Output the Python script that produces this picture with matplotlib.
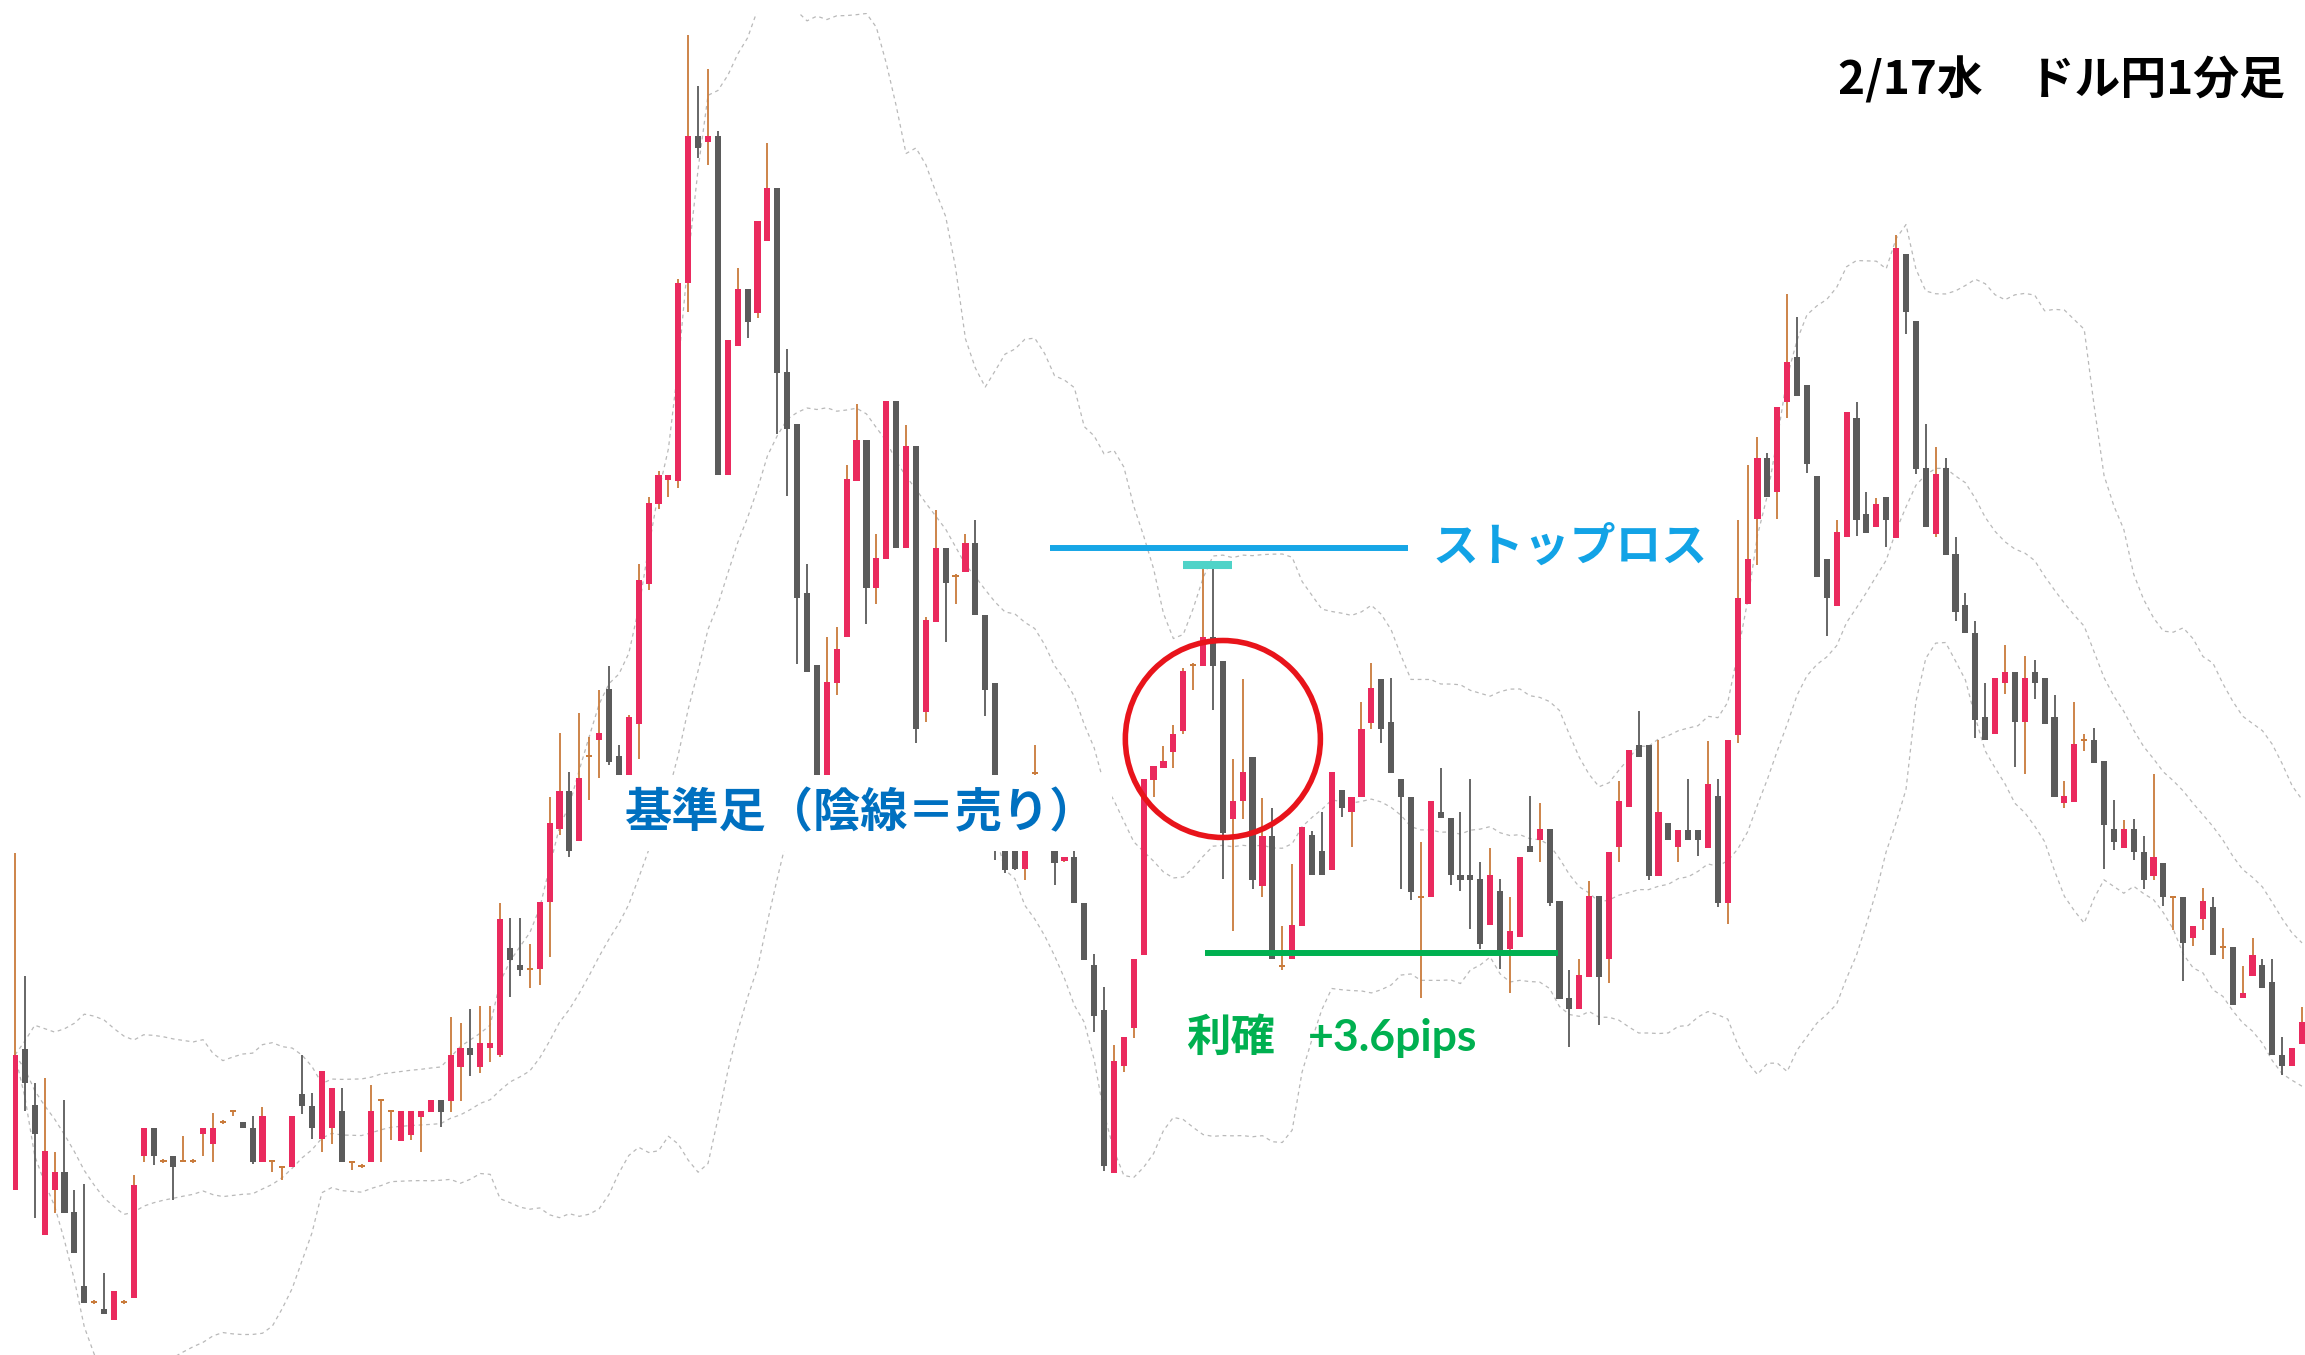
import numpy as np
import pandas as pd
import matplotlib
matplotlib.use("Agg")
import matplotlib.pyplot as plt
from matplotlib.patches import Ellipse

plt.rcParams['font.family'] = ['Noto Sans CJK JP', 'DejaVu Sans']

# USD/JPY 1-minute candles, 2/17
opens = [
  105.9430, 105.9853, 105.9685, 105.9295, 105.9430, 105.9484, 105.9364, 105.9142, 105.9094, 105.9073,
  105.9040, 105.9094, 105.9106, 105.9532, 105.9616, 105.9517, 105.9532, 105.9517, 105.9517, 105.9598,
  105.9568, 105.9634, 105.9667, 105.9634, 105.9616, 105.9514, 105.9517, 105.9499, 105.9499, 105.9718,
  105.9682, 105.9583, 105.9616, 105.9667, 105.9514, 105.9502, 105.9514, 105.9700, 105.9667, 105.9577,
  105.9595, 105.9649, 105.9664, 105.9700, 105.9697, 105.9799, 105.9856, 105.9799, 105.9856, 105.9835,
  106.0156, 106.0105, 106.0093, 106.0093, 106.0294, 106.0513, 106.0627, 106.0477, 106.0732, 106.0780,
  106.0933, 106.0732, 106.0630, 106.0828, 106.1248, 106.1488, 106.1560, 106.1557, 106.2151, 106.2592,
  106.2574, 106.2592, 106.1575, 106.1962, 106.2133, 106.2061, 106.2277, 106.2436, 106.1884, 106.1728,
  106.1221, 106.1005, 106.0510, 106.0951, 106.1089, 106.1557, 106.1680, 106.1236, 106.1323, 106.1797,
  106.1356, 106.1662, 106.0864, 106.1134, 106.1356, 106.1272, 106.1284, 106.1371, 106.1155, 106.0951,
  106.0450, 106.0450, 106.0393, 106.0681, 106.0615, 106.0450, 106.0417, 106.0429, 106.0291, 106.0105,
  105.9970, 105.9481, 105.9802, 105.9916, 106.0135, 106.0660, 106.0696, 106.0744, 106.0807, 106.1005,
  106.1002, 106.1089, 106.1017, 106.0543, 106.0597, 106.0729, 106.0342, 106.0492, 106.0102, 106.0123,
  106.0222, 106.0495, 106.0447, 106.0390, 106.0630, 106.0564, 106.0609, 106.0831, 106.0963, 106.0834,
  106.0663, 106.0609, 106.0309, 106.0309, 106.0564, 106.0546, 106.0375, 106.0375, 106.0363, 106.0225,
  106.0327, 106.0153, 106.0189, 106.0462, 106.0480, 106.0513, 106.0297, 106.0006, 105.9973, 106.0069,
  106.0312, 106.0123, 106.0459, 106.0579, 106.0765, 106.0765, 106.0372, 106.0531, 106.0459, 106.0510,
  106.0510, 106.0456, 106.0612, 106.0291, 106.0795, 106.1188, 106.1443, 106.1626, 106.1524, 106.1794,
  106.1929, 106.1845, 106.1572, 106.1323, 106.1182, 106.1389, 106.1746, 106.1458, 106.1419, 106.1509,
  106.1386, 106.2238, 106.2037, 106.1596, 106.1398, 106.1596, 106.1338, 106.1185, 106.1101, 106.0849,
  106.0798, 106.0951, 106.0984, 106.0834, 106.0984, 106.0966, 106.0849, 106.0591, 106.0594, 106.0780,
  106.0780, 106.0717, 106.0513, 106.0456, 106.0513, 106.0444, 106.0372, 106.0411, 106.0309, 106.0309,
  106.0186, 106.0243, 106.0279, 106.0159, 106.0159, 106.0006, 106.0072, 106.0105, 106.0054, 105.9835,
  105.9802, 105.9868]

highs = [
  106.0441, 106.0072, 105.9751, 105.9766, 105.9544, 105.9700, 105.9430, 105.9448, 105.9100, 105.9181,
  105.9127, 105.9100, 105.9475, 105.9616, 105.9616, 105.9523, 105.9532, 105.9592, 105.9523, 105.9616,
  105.9661, 105.9640, 105.9667, 105.9634, 105.9652, 105.9679, 105.9517, 105.9499, 105.9652, 105.9835,
  105.9721, 105.9787, 105.9736, 105.9736, 105.9514, 105.9508, 105.9745, 105.9700, 105.9667, 105.9667,
  105.9667, 105.9667, 105.9700, 105.9700, 105.9949, 105.9931, 105.9973, 105.9982, 105.9982, 106.0291,
  106.0246, 106.0246, 106.0168, 106.0294, 106.0609, 106.0801, 106.0684, 106.0861, 106.0789, 106.0930,
  106.1002, 106.0765, 106.0855, 106.1308, 106.1509, 106.1587, 106.1575, 106.2163, 106.2895, 106.2742,
  106.2793, 106.2607, 106.1980, 106.2196, 106.2133, 106.2337, 106.2571, 106.2436, 106.1953, 106.1728,
  106.1308, 106.1005, 106.1089, 106.1119, 106.1605, 106.1788, 106.1680, 106.1398, 106.1797, 106.1797,
  106.1725, 106.1662, 106.1149, 106.1470, 106.1356, 106.1278, 106.1398, 106.1440, 106.1155, 106.0951,
  106.0480, 106.0480, 106.0480, 106.0765, 106.0630, 106.0465, 106.0429, 106.0450, 106.0291, 106.0138,
  106.0039, 105.9865, 105.9889, 106.0123, 106.0663, 106.0702, 106.0762, 106.0825, 106.0996, 106.1011,
  106.1302, 106.1305, 106.1017, 106.0723, 106.0963, 106.0729, 106.0606, 106.0576, 106.0222, 106.0408,
  106.0519, 106.0507, 106.0564, 106.0684, 106.0630, 106.0609, 106.0894, 106.1011, 106.0963, 106.0966,
  106.0663, 106.0609, 106.0474, 106.0597, 106.0696, 106.0546, 106.0564, 106.0663, 106.0414, 106.0456,
  106.0363, 106.0309, 106.0429, 106.0612, 106.0591, 106.0513, 106.0297, 106.0090, 106.0123, 106.0357,
  106.0312, 106.0444, 106.0657, 106.0750, 106.0867, 106.0765, 106.0780, 106.0531, 106.0510, 106.0663,
  106.0510, 106.0777, 106.0663, 106.0780, 106.1440, 106.1605, 106.1689, 106.1641, 106.1779, 106.2118,
  106.2049, 106.1845, 106.1572, 106.1323, 106.1440, 106.1764, 106.1794, 106.1524, 106.1506, 106.1509,
  106.2295, 106.2238, 106.2037, 106.1728, 106.1659, 106.1626, 106.1389, 106.1221, 106.1137, 106.0951,
  106.0966, 106.1065, 106.0984, 106.1032, 106.1020, 106.0966, 106.0915, 106.0657, 106.0894, 106.0798,
  106.0816, 106.0717, 106.0600, 106.0540, 106.0543, 106.0492, 106.0678, 106.0411, 106.0309, 106.0309,
  106.0222, 106.0336, 106.0309, 106.0216, 106.0159, 106.0102, 106.0186, 106.0123, 106.0123, 105.9889,
  105.9856, 105.9979]

lows = [
  105.9430, 105.9667, 105.9346, 105.9295, 105.9361, 105.9361, 105.9241, 105.9091, 105.9088, 105.9058,
  105.9040, 105.9088, 105.9106, 105.9514, 105.9505, 105.9511, 105.9400, 105.9514, 105.9511, 105.9532,
  105.9514, 105.9628, 105.9652, 105.9616, 105.9508, 105.9514, 105.9484, 105.9460, 105.9499, 105.9658,
  105.9583, 105.9544, 105.9568, 105.9514, 105.9490, 105.9496, 105.9514, 105.9514, 105.9580, 105.9577,
  105.9580, 105.9544, 105.9664, 105.9619, 105.9664, 105.9697, 105.9772, 105.9781, 105.9814, 105.9829,
  106.0009, 106.0072, 106.0036, 106.0045, 106.0129, 106.0495, 106.0429, 106.0477, 106.0600, 106.0666,
  106.0705, 106.0570, 106.0600, 106.0723, 106.1230, 106.1473, 106.1509, 106.1536, 106.2064, 106.2526,
  106.2505, 106.1575, 106.1575, 106.1962, 106.1986, 106.2046, 106.2277, 106.1698, 106.1512, 106.1008,
  106.0984, 106.0480, 106.0495, 106.0915, 106.1089, 106.1557, 106.1128, 106.1188, 106.1323, 106.1356,
  106.1356, 106.0771, 106.0834, 106.1134, 106.1074, 106.1188, 106.1284, 106.1155, 106.0852, 106.0420,
  106.0381, 106.0390, 106.0360, 106.0675, 106.0585, 106.0345, 106.0414, 106.0291, 106.0120, 105.9904,
  105.9487, 105.9481, 105.9784, 105.9886, 106.0135, 106.0609, 106.0696, 106.0696, 106.0798, 106.0930,
  106.1002, 106.0870, 106.0363, 106.0207, 106.0543, 106.0333, 106.0309, 106.0123, 106.0090, 106.0123,
  106.0222, 106.0375, 106.0375, 106.0390, 106.0549, 106.0459, 106.0609, 106.0813, 106.0771, 106.0681,
  106.0333, 106.0300, 106.0006, 106.0309, 106.0546, 106.0345, 106.0327, 106.0213, 106.0153, 106.0225,
  106.0093, 106.0021, 106.0189, 106.0444, 106.0414, 106.0282, 106.0003, 105.9859, 105.9973, 106.0069,
  105.9925, 106.0051, 106.0414, 106.0579, 106.0729, 106.0360, 106.0372, 106.0480, 106.0414, 106.0480,
  106.0432, 106.0456, 106.0279, 106.0228, 106.0771, 106.1188, 106.1305, 106.1509, 106.1443, 106.1746,
  106.1812, 106.1581, 106.1269, 106.1092, 106.1182, 106.1389, 106.1392, 106.1401, 106.1419, 106.1359,
  106.1386, 106.1998, 106.1578, 106.1419, 106.1389, 106.1335, 106.1137, 106.1101, 106.0786, 106.0780,
  106.0798, 106.0918, 106.0699, 106.0678, 106.0903, 106.0828, 106.0609, 106.0576, 106.0594, 106.0747,
  106.0711, 106.0393, 106.0450, 106.0456, 106.0420, 106.0333, 106.0360, 106.0282, 106.0210, 106.0057,
  106.0162, 106.0210, 106.0135, 106.0123, 105.9985, 106.0006, 106.0072, 106.0036, 105.9835, 105.9775,
  105.9802, 105.9868]

closes = [
  105.9835, 105.9751, 105.9598, 105.9547, 105.9484, 105.9361, 105.9241, 105.9091, 105.9094, 105.9058,
  105.9127, 105.9094, 105.9445, 105.9616, 105.9532, 105.9517, 105.9499, 105.9517, 105.9517, 105.9616,
  105.9616, 105.9634, 105.9667, 105.9616, 105.9514, 105.9652, 105.9517, 105.9499, 105.9652, 105.9682,
  105.9616, 105.9787, 105.9736, 105.9514, 105.9514, 105.9502, 105.9667, 105.9700, 105.9667, 105.9667,
  105.9667, 105.9667, 105.9700, 105.9664, 105.9835, 105.9856, 105.9835, 105.9871, 105.9871, 106.0243,
  106.0120, 106.0090, 106.0093, 106.0294, 106.0531, 106.0627, 106.0447, 106.0666, 106.0732, 106.0801,
  106.0714, 106.0600, 106.0849, 106.1260, 106.1491, 106.1575, 106.1575, 106.2151, 106.2592, 106.2556,
  106.2592, 106.1575, 106.1980, 106.2133, 106.2034, 106.2337, 106.2436, 106.1881, 106.1713, 106.1206,
  106.0984, 106.0510, 106.0954, 106.1053, 106.1563, 106.1680, 106.1236, 106.1326, 106.1797, 106.1356,
  106.1662, 106.0813, 106.1140, 106.1356, 106.1251, 106.1272, 106.1371, 106.1155, 106.0930, 106.0465,
  106.0390, 106.0393, 106.0450, 106.0681, 106.0600, 106.0411, 106.0429, 106.0291, 106.0120, 105.9952,
  105.9502, 105.9817, 105.9889, 106.0123, 106.0663, 106.0702, 106.0717, 106.0798, 106.0987, 106.1005,
  106.1089, 106.1002, 106.0501, 106.0597, 106.0684, 106.0360, 106.0492, 106.0123, 106.0102, 106.0225,
  106.0519, 106.0375, 106.0375, 106.0684, 106.0576, 106.0609, 106.0813, 106.0936, 106.0813, 106.0681,
  106.0609, 106.0324, 106.0309, 106.0597, 106.0546, 106.0375, 106.0360, 106.0360, 106.0168, 106.0375,
  106.0150, 106.0207, 106.0429, 106.0444, 106.0513, 106.0291, 106.0003, 105.9973, 106.0075, 106.0312,
  106.0069, 106.0444, 106.0597, 106.0750, 106.0729, 106.0372, 106.0564, 106.0480, 106.0510, 106.0480,
  106.0480, 106.0648, 106.0291, 106.0780, 106.1206, 106.1323, 106.1626, 106.1509, 106.1779, 106.1914,
  106.1812, 106.1608, 106.1269, 106.1206, 106.1404, 106.1764, 106.1440, 106.1401, 106.1488, 106.1440,
  106.2256, 106.2064, 106.1593, 106.1419, 106.1578, 106.1335, 106.1164, 106.1101, 106.0840, 106.0780,
  106.0966, 106.0984, 106.0834, 106.0966, 106.0951, 106.0828, 106.0609, 106.0612, 106.0768, 106.0780,
  106.0711, 106.0525, 106.0474, 106.0513, 106.0444, 106.0360, 106.0429, 106.0309, 106.0309, 106.0171,
  106.0222, 106.0297, 106.0135, 106.0159, 105.9985, 106.0021, 106.0135, 106.0036, 105.9835, 105.9802,
  105.9856, 105.9934]

signal_idx = 122          # 基準足 (bearish reference candle)
stop_loss = 106.1356
take_profit_pips = 3.6
title = '2/17水\u3000ドル円1分足'

BULL = '#ea2a5e'
BEAR = '#5b5b5b'
BULL_WICK = '#c97b3b'
BG = '#fffdf0'

o = np.array(opens); h = np.array(highs); l = np.array(lows); c = np.array(closes)
x = np.arange(len(o))

fig = plt.figure(figsize=(23.05, 13.55), dpi=100, facecolor='white')
ax = fig.add_axes([13/2305, 0, 1 - 13/2305, 1 - 13/1355])
ax.set_facecolor(BG)

# bollinger bands (20, 2σ)
s = pd.Series(c)
mid = s.rolling(20, min_periods=1).mean()
sd = s.rolling(20, min_periods=1).std(ddof=0)
for line in [mid + 2*sd, mid, mid - 2*sd]:
  ax.plot(x, line, color='#b9b9b9', lw=0.9, ls=(0, (3, 3)), zorder=1)

up = c > o
dn = c < o
dj = c == o
wick_col = np.where(dn, BEAR, BULL_WICK)
ax.vlines(x, l, h, colors=wick_col, lw=1.3, zorder=2)
body_h = np.maximum(np.abs(c - o), 0.0005)
body_b = np.minimum(o, c)
ax.bar(x[up], body_h[up], bottom=body_b[up], width=0.62, color=BULL, zorder=3)
ax.bar(x[dn], body_h[dn], bottom=body_b[dn], width=0.62, color=BEAR, zorder=3)
ax.bar(x[dj], body_h[dj], bottom=body_b[dj] - 0.00025, width=0.62, color=BULL_WICK, zorder=3)

ax.set_xlim(-0.2, 231.3)
ax.set_ylim(105.8935, 106.2961)
ax.axis('off')

# annotations
entry = c[signal_idx]
take_profit = entry - take_profit_pips / 100

ax.hlines(stop_loss, 104.5, 140.7, color='#17a6e6', lw=4.3, zorder=5)
ax.hlines(max(h[120], h[121]), 118.0, 122.9, color='#4fd3c8', lw=5.8, zorder=5)
ax.text(143.2, stop_loss, 'ストップロス', color='#12a3e6', fontsize=33,
        fontweight='bold', ha='left', va='center', zorder=6)

ax.add_patch(Ellipse((signal_idx, 106.0783), 19.7, 0.0591, fill=False,
                     ec='#e8141b', lw=4.0, zorder=6))

ax.text(61.6, 106.0561, '基準足（陰線＝売り）', color='#0070c0', fontsize=34,
        fontweight='bold', ha='left', va='center', zorder=7,
        bbox=dict(boxstyle='square,pad=0.3', fc='white', ec='none'))

ax.hlines(take_profit, 120.2, 155.9, color='#00b050', lw=4.3, zorder=5)
ax.text(118.3, 105.9886, '利確', color='#00b050',
        fontsize=32, fontweight='bold', ha='left', va='center', zorder=6)
ax.text(130.6, 105.9886, '+%.1fpips' % take_profit_pips, color='#00b050',
        fontsize=32, fontweight='bold', ha='left', va='center', zorder=6,
        family=['Lato', 'DejaVu Sans'])

fig.text(1838/2305, 1 - 81/1355, title, color='black', fontsize=33,
         fontweight='bold', ha='left', va='center')

fig.savefig('out.png', dpi=100, facecolor='white')
